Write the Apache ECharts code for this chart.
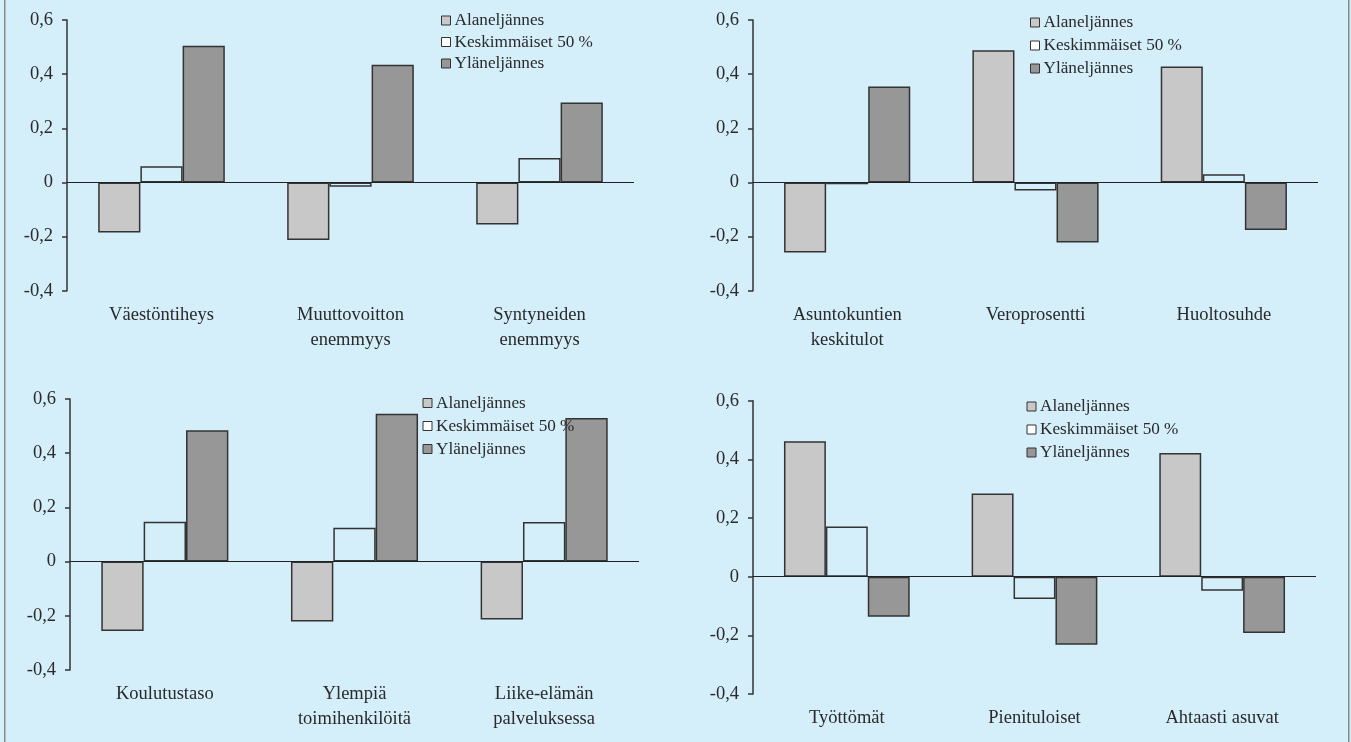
<!DOCTYPE html>
<html>
<head>
<meta charset="utf-8">
<script src="https://cdn.jsdelivr.net/npm/echarts@6/dist/echarts.min.js"></script>
<style>
html,body{margin:0;padding:0;background:#d4eefa;}
#c{width:1351px;height:742px;}
</style>
</head>
<body>
<div id="c"></div>
<script>
// ---- Data ----
const seriesNames = ['Alaneljännes', 'Keskimmäiset 50 %', 'Yläneljännes'];
const yTicks = [-0.4, -0.2, 0, 0.2, 0.4, 0.6];

const categories1 = ['Väestöntiheys', 'Muuttovoitton\nenemmyys', 'Syntyneiden\nenemmyys'];
const alan1 = [-0.185, -0.213, -0.155];
const kesk1 = [0.06, -0.016, 0.09];
const yla1  = [0.505, 0.435, 0.295];

const categories2 = ['Asuntokuntien\nkeskitulot', 'Veroprosentti', 'Huoltosuhde'];
const alan2 = [-0.259, 0.488, 0.428];
const kesk2 = [-0.007, -0.03, 0.03];
const yla2  = [0.354, -0.222, -0.176];

const categories3 = ['Koulutustaso', 'Ylempiä\ntoimihenkilöitä', 'Liike-elämän\npalveluksessa'];
const alan3 = [-0.256, -0.221, -0.214];
const kesk3 = [0.147, 0.125, 0.146];
const yla3  = [0.485, 0.546, 0.53];

const categories4 = ['Työttömät', 'Pienituloiset', 'Ahtaasti asuvat'];
const alan4 = [0.462, 0.284, 0.422];
const kesk4 = [0.171, -0.076, -0.048];
const yla4  = [-0.137, -0.232, -0.192];

// ---- Layout ----
const panels = [
  {cats: categories1, data: [alan1, kesk1, yla1], grid: {left: 67, top: 20, width: 567, height: 270.7}, legend: {left: 441, top: 12, gap: 4.5}},
  {cats: categories2, data: [alan2, kesk2, yla2], grid: {left: 753, top: 20, width: 565, height: 270.7}, legend: {left: 1030, top: 14, gap: 6}},
  {cats: categories3, data: [alan3, kesk3, yla3], grid: {left: 70, top: 399, width: 569, height: 271}, legend: {left: 422.5, top: 394.5, gap: 6}},
  {cats: categories4, data: [alan4, kesk4, yla4], grid: {left: 753, top: 400.7, width: 563, height: 293.3}, legend: {left: 1026.5, top: 398, gap: 6}}
];

const fills = ['#c8c8c8', 'rgba(0,0,0,0)', '#979797'];
const legendFills = ['#c8c8c8', '#ffffff', '#979797'];
const FONT = '"Liberation Serif", "DejaVu Serif", serif';
const TXT = '#2a2a2a';

const grids = [], xAxes = [], yAxes = [], series = [], legends = [];
panels.forEach((p, i) => {
  grids.push(p.grid);
  xAxes.push({
    type: 'category', gridIndex: i, data: p.cats,
    axisLine: {show: false, onZero: false}, axisTick: {show: false},
    axisLabel: {interval: 0, margin: 12, fontFamily: FONT, fontSize: 18.5, color: TXT, lineHeight: 25}
  });
  yAxes.push({
    type: 'value', gridIndex: i, min: yTicks[0], max: yTicks[yTicks.length - 1], interval: 0.2,
    axisLine: {show: true, lineStyle: {color: '#333', width: 1.5}},
    axisTick: {show: true, length: 5, lineStyle: {color: '#333', width: 1.5}},
    splitLine: {show: false},
    axisLabel: {margin: 14, fontFamily: FONT, fontSize: 18.5, color: TXT,
      formatter: v => (Math.abs(v) < 1e-9 ? '0' : v.toFixed(1).replace('.', ','))}
  });
  seriesNames.forEach((name, k) => {
    const s = {
      type: 'bar', name: name, xAxisIndex: i, yAxisIndex: i, data: p.data[k],
      barGap: '0%', barCategoryGap: '33%',
      itemStyle: {color: fills[k], borderColor: '#333', borderWidth: 1.5},
      emphasis: {disabled: true}, silent: true
    };
    if (k === 0) {
      s.markLine = {
        silent: true, symbol: ['none', 'none'], label: {show: false},
        lineStyle: {color: '#222', width: 1.2, type: 'solid'},
        data: [{yAxis: 0}], animation: false
      };
    }
    series.push(s);
  });
  legends.push({
    orient: 'vertical', left: p.legend.left, top: p.legend.top, padding: 0,
    itemGap: p.legend.gap, itemWidth: 9, itemHeight: 9, icon: 'rect',
    selectedMode: false,
    textStyle: {fontFamily: FONT, fontSize: 17.2, color: TXT, lineHeight: 17, padding: [0, 0, 0, -1]},
    data: seriesNames.map((n, k) => ({name: n, itemStyle: {color: legendFills[k], borderColor: '#333', borderWidth: 1}}))
  });
});

const chart = echarts.init(document.getElementById('c'), null, {renderer: 'canvas'});
chart.setOption({
  backgroundColor: '#d4eefa',
  animation: false,
  grid: grids, xAxis: xAxes, yAxis: yAxes, series: series, legend: legends,
  graphic: [
    {type: 'rect', shape: {x: 4, y: 0, width: 1.5, height: 742}, style: {fill: '#8a8a8a'}, silent: true},
    {type: 'rect', shape: {x: 1348, y: 0, width: 1.5, height: 742}, style: {fill: '#8a8a8a'}, silent: true}
  ]
});
</script>
</body>
</html>
